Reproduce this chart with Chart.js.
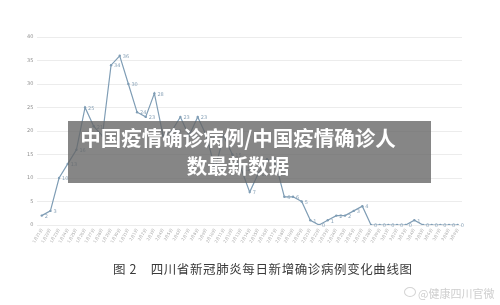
<!DOCTYPE html>
<html>
<head>
<meta charset="utf-8">
<script src="https://cdn.jsdelivr.net/npm/chart.js@4/dist/chart.umd.min.js"></script>
<style>
  html, body { margin: 0; padding: 0; background: #fff; }
  #wrap { position: relative; width: 500px; height: 305px; overflow: hidden; background: #fff; }
  #c { position: absolute; left: 0; top: 0; }
  #banner {
    position: absolute; left: 68px; top: 121px; width: 363px; height: 62px;
    background: rgba(100,100,100,0.78);
  }
  #banner div {
    position: absolute; left: 0; width: 340px; text-align: center;
    color: #fff; font-family: "Noto Sans CJK SC", sans-serif; font-weight: 700;
    font-size: 20.5px; line-height: 24px; white-space: nowrap;
  }
  #caption {
    position: absolute; left: 113px; top: 261px; white-space: nowrap;
    font-family: "Noto Sans CJK SC", sans-serif; font-size: 12.5px; color: #3a3a3a;
    letter-spacing: 0.6px; line-height: 16px;
  }
  #wm {
    position: absolute; left: 418px; top: 286px; white-space: nowrap;
    font-family: "Noto Sans CJK SC", sans-serif; font-size: 11px; color: #cfcfcf;
    line-height: 14px;
  }
  #wmicon {
    position: absolute; left: 404px; top: 287px; width: 12px; height: 10px;
    border: 1.5px solid #d4d4d4; border-radius: 50%; box-sizing: border-box;
  }
</style>
</head>
<body>
<div id="wrap">
  <canvas id="c" width="500" height="305"></canvas>
  <div id="banner">
    <div style="top:4px;">中国疫情确诊病例/中国疫情确诊人</div>
    <div style="top:32px;">数最新数据</div>
  </div>
  <div id="caption">图 2&nbsp;&nbsp;&nbsp;&nbsp;四川省新冠肺炎每日新增确诊病例变化曲线图</div>
  <div id="wmicon"></div>
  <div id="wm">@健康四川官微</div>
</div>
<script>
const categories = [
  "1月21日","1月22日","1月23日","1月24日","1月25日","1月26日","1月27日","1月28日","1月29日","1月30日","1月31日",
  "2月1日","2月2日","2月3日","2月4日","2月5日","2月6日","2月7日","2月8日","2月9日","2月10日",
  "2月11日","2月12日","2月13日","2月14日","2月15日","2月16日","2月17日","2月18日","2月19日","2月20日",
  "2月21日","2月22日","2月23日","2月24日","2月25日","2月26日","2月27日","2月28日","2月29日",
  "3月1日","3月2日","3月3日","3月4日","3月5日","3月6日","3月7日","3月8日","3月9日"
];
const newCases = [
  2, 3, 10, 13, 16, 25, 21, 19, 34, 36, 30,
  24, 23, 28, 19, 20, 23, 19, 23, 19, 12,
  19, 15, 12, 7, 11, 14, 13, 6, 6, 5,
  1, 0, 1, 2, 2, 3, 4, 0, 0,
  0, 0, 0, 1, 0, 0, 0, 0, 0
];
const yTicks = [0, 5, 10, 15, 20, 25, 30, 35, 40];

const lineColor = '#7f9db5';

const labelPlugin = {
  id: 'pointLabels',
  afterDatasetsDraw(chart) {
    const ctx = chart.ctx;
    const meta = chart.getDatasetMeta(0);
    ctx.save();
    ctx.font = '5px "DejaVu Sans", sans-serif';
    ctx.fillStyle = '#8aa3b8';
    ctx.textAlign = 'left';
    ctx.textBaseline = 'middle';
    meta.data.forEach((pt, i) => {
      ctx.fillText(String(newCases[i]), pt.x + 3, pt.y + 1);
    });
    ctx.restore();
  }
};

new Chart(document.getElementById('c'), {
  type: 'line',
  data: {
    labels: categories,
    datasets: [{
      data: newCases,
      borderColor: lineColor,
      backgroundColor: lineColor,
      borderWidth: 1.2,
      pointRadius: 1.2,
      pointBorderWidth: 0,
      tension: 0,
      fill: false
    }]
  },
  options: {
    responsive: false,
    animation: false,
    devicePixelRatio: 1,
    layout: { padding: { left: 0, right: 38, top: 37, bottom: 58 } },
    plugins: { legend: { display: false }, tooltip: { enabled: false } },
    scales: {
      x: {
        offset: true,
        grid: { display: false, drawTicks: false },
        border: { display: false },
        ticks: {
          autoSkip: false, maxRotation: 60, minRotation: 60,
          font: { size: 4, family: '"DejaVu Sans", sans-serif' },
          color: '#a8a8a8', padding: 3
        },
        afterFit(scale) { scale.height = 22; }
      },
      y: {
        min: 0, max: 40,
        afterBuildTicks(scale) { scale.ticks = yTicks.map(v => ({ value: v })); },
        grid: { color: '#ececec', lineWidth: 1, drawTicks: false },
        border: { display: false },
        ticks: {
          font: { size: 5, family: '"DejaVu Sans", sans-serif' },
          color: '#909090', padding: 4
        },
        afterFit(scale) { scale.width = 37.4; }
      }
    }
  },
  plugins: [labelPlugin]
});
</script>
</body>
</html>
